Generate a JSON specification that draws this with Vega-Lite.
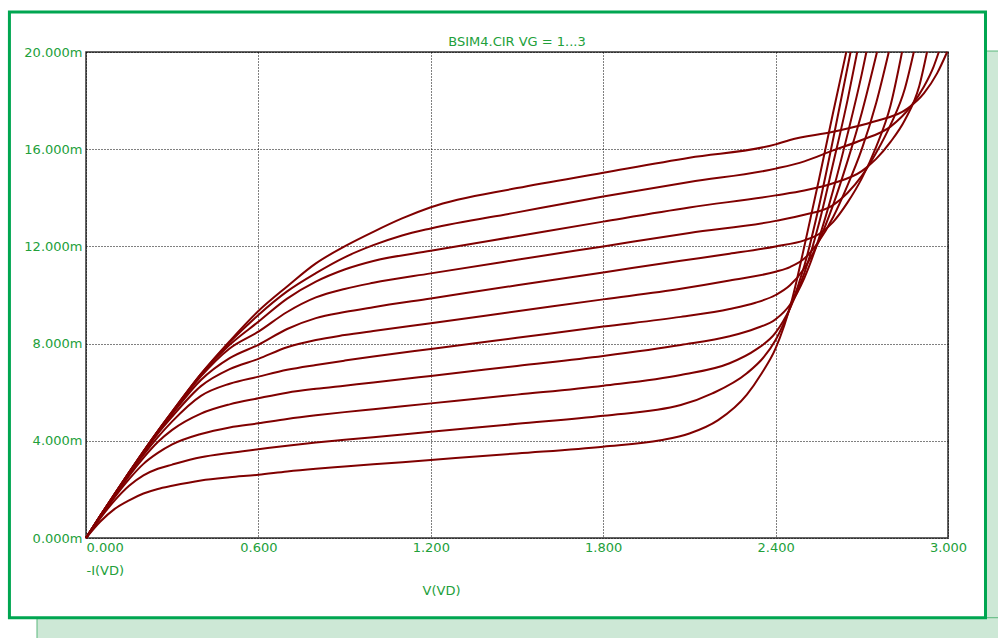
{
  "$schema": "https://vega.github.io/schema/vega-lite/v6.json",
  "width": 862,
  "height": 486,
  "autosize": {"type": "none"},
  "padding": {"left": 86, "top": 52, "right": 50, "bottom": 100},
  "background": "white",
  "title": {"text": "BSIM4.CIR VG = 1...3", "color": "#22a03a", "font": "DejaVu Sans", "fontSize": 13, "fontWeight": "normal", "anchor": "middle", "frame": "group", "baseline": "alphabetic", "offset": 5, "dy": 53},
  "config": {"view": {"stroke": "#333333", "strokeWidth": 1.5}},
  "datasets": {
    "frame": [{}],
    "curves": [
      {"vg":1.0,"v":0,"i":0},{"vg":1.0,"v":0.05,"i":0.68},{"vg":1.0,"v":0.1,"i":1.2},{"vg":1.0,"v":0.15,"i":1.55},{"vg":1.0,"v":0.2,"i":1.83},{"vg":1.0,"v":0.25,"i":2.02},{"vg":1.0,"v":0.3,"i":2.15},{"vg":1.0,"v":0.4,"i":2.37},{"vg":1.0,"v":0.5,"i":2.5},{"vg":1.0,"v":0.6,"i":2.6},{"vg":1.0,"v":0.7,"i":2.74},{"vg":1.0,"v":0.8,"i":2.85},{"vg":1.0,"v":0.9,"i":2.94},{"vg":1.0,"v":1.0,"i":3.03},{"vg":1.0,"v":1.2,"i":3.21},{"vg":1.0,"v":1.5,"i":3.48},{"vg":1.0,"v":1.8,"i":3.76},{"vg":1.0,"v":2.0,"i":4.02},{"vg":1.0,"v":2.1,"i":4.3},{"vg":1.0,"v":2.2,"i":4.85},{"vg":1.0,"v":2.3,"i":5.9},{"vg":1.0,"v":2.35,"i":6.75},{"vg":1.0,"v":2.4,"i":7.8},{"vg":1.0,"v":2.457,"i":9.8},{"vg":1.0,"v":2.5,"i":12.0},{"vg":1.0,"v":2.55,"i":14.7},{"vg":1.0,"v":2.6,"i":17.5},{"vg":1.0,"v":2.646,"i":20},
      {"vg":1.2,"v":0,"i":0},{"vg":1.2,"v":0.05,"i":0.82},{"vg":1.2,"v":0.1,"i":1.55},{"vg":1.2,"v":0.15,"i":2.15},{"vg":1.2,"v":0.2,"i":2.58},{"vg":1.2,"v":0.25,"i":2.85},{"vg":1.2,"v":0.3,"i":3.02},{"vg":1.2,"v":0.4,"i":3.32},{"vg":1.2,"v":0.5,"i":3.5},{"vg":1.2,"v":0.6,"i":3.65},{"vg":1.2,"v":0.7,"i":3.8},{"vg":1.2,"v":0.8,"i":3.93},{"vg":1.2,"v":0.9,"i":4.04},{"vg":1.2,"v":1.0,"i":4.15},{"vg":1.2,"v":1.2,"i":4.37},{"vg":1.2,"v":1.5,"i":4.7},{"vg":1.2,"v":1.8,"i":5.03},{"vg":1.2,"v":2.07,"i":5.47},{"vg":1.2,"v":2.18,"i":5.95},{"vg":1.2,"v":2.3,"i":6.78},{"vg":1.2,"v":2.36,"i":7.46},{"vg":1.2,"v":2.4,"i":8.15},{"vg":1.2,"v":2.45,"i":9.45},{"vg":1.2,"v":2.5,"i":11.2},{"vg":1.2,"v":2.55,"i":13.6},{"vg":1.2,"v":2.6,"i":16.4},{"vg":1.2,"v":2.661,"i":20},
      {"vg":1.4,"v":0,"i":0},{"vg":1.4,"v":0.05,"i":0.86},{"vg":1.4,"v":0.1,"i":1.68},{"vg":1.4,"v":0.15,"i":2.42},{"vg":1.4,"v":0.2,"i":3.05},{"vg":1.4,"v":0.25,"i":3.5},{"vg":1.4,"v":0.3,"i":3.85},{"vg":1.4,"v":0.4,"i":4.28},{"vg":1.4,"v":0.5,"i":4.55},{"vg":1.4,"v":0.6,"i":4.72},{"vg":1.4,"v":0.7,"i":4.9},{"vg":1.4,"v":0.8,"i":5.05},{"vg":1.4,"v":0.9,"i":5.18},{"vg":1.4,"v":1.0,"i":5.3},{"vg":1.4,"v":1.2,"i":5.54},{"vg":1.4,"v":1.5,"i":5.9},{"vg":1.4,"v":1.8,"i":6.27},{"vg":1.4,"v":2.07,"i":6.71},{"vg":1.4,"v":2.24,"i":7.19},{"vg":1.4,"v":2.33,"i":7.74},{"vg":1.4,"v":2.4,"i":8.45},{"vg":1.4,"v":2.45,"i":9.45},{"vg":1.4,"v":2.5,"i":10.9},{"vg":1.4,"v":2.55,"i":12.9},{"vg":1.4,"v":2.6,"i":15.4},{"vg":1.4,"v":2.65,"i":18.0},{"vg":1.4,"v":2.684,"i":20},
      {"vg":1.6,"v":0,"i":0},{"vg":1.6,"v":0.05,"i":0.88},{"vg":1.6,"v":0.1,"i":1.74},{"vg":1.6,"v":0.15,"i":2.56},{"vg":1.6,"v":0.2,"i":3.3},{"vg":1.6,"v":0.25,"i":3.95},{"vg":1.6,"v":0.3,"i":4.45},{"vg":1.6,"v":0.4,"i":5.12},{"vg":1.6,"v":0.5,"i":5.5},{"vg":1.6,"v":0.6,"i":5.75},{"vg":1.6,"v":0.7,"i":5.98},{"vg":1.6,"v":0.8,"i":6.14},{"vg":1.6,"v":0.9,"i":6.27},{"vg":1.6,"v":1.0,"i":6.4},{"vg":1.6,"v":1.2,"i":6.67},{"vg":1.6,"v":1.5,"i":7.08},{"vg":1.6,"v":1.8,"i":7.49},{"vg":1.6,"v":2.07,"i":7.94},{"vg":1.6,"v":2.24,"i":8.3},{"vg":1.6,"v":2.33,"i":8.62},{"vg":1.6,"v":2.4,"i":9.0},{"vg":1.6,"v":2.45,"i":9.6},{"vg":1.6,"v":2.5,"i":10.7},{"vg":1.6,"v":2.55,"i":12.3},{"vg":1.6,"v":2.6,"i":14.3},{"vg":1.6,"v":2.65,"i":16.6},{"vg":1.6,"v":2.7,"i":19.1},{"vg":1.6,"v":2.716,"i":20},
      {"vg":1.8,"v":0,"i":0},{"vg":1.8,"v":0.05,"i":0.9},{"vg":1.8,"v":0.1,"i":1.77},{"vg":1.8,"v":0.15,"i":2.62},{"vg":1.8,"v":0.2,"i":3.42},{"vg":1.8,"v":0.25,"i":4.15},{"vg":1.8,"v":0.3,"i":4.8},{"vg":1.8,"v":0.4,"i":5.85},{"vg":1.8,"v":0.5,"i":6.35},{"vg":1.8,"v":0.6,"i":6.64},{"vg":1.8,"v":0.7,"i":6.92},{"vg":1.8,"v":0.8,"i":7.12},{"vg":1.8,"v":0.9,"i":7.3},{"vg":1.8,"v":1.0,"i":7.47},{"vg":1.8,"v":1.2,"i":7.78},{"vg":1.8,"v":1.5,"i":8.24},{"vg":1.8,"v":1.8,"i":8.7},{"vg":1.8,"v":2.07,"i":9.1},{"vg":1.8,"v":2.24,"i":9.42},{"vg":1.8,"v":2.33,"i":9.68},{"vg":1.8,"v":2.4,"i":10.0},{"vg":1.8,"v":2.45,"i":10.4},{"vg":1.8,"v":2.5,"i":11.1},{"vg":1.8,"v":2.55,"i":12.2},{"vg":1.8,"v":2.6,"i":13.7},{"vg":1.8,"v":2.65,"i":15.5},{"vg":1.8,"v":2.7,"i":17.5},{"vg":1.8,"v":2.753,"i":20},
      {"vg":2.0,"v":0,"i":0},{"vg":2.0,"v":0.05,"i":0.91},{"vg":2.0,"v":0.1,"i":1.79},{"vg":2.0,"v":0.15,"i":2.66},{"vg":2.0,"v":0.2,"i":3.5},{"vg":2.0,"v":0.25,"i":4.3},{"vg":2.0,"v":0.3,"i":5.0},{"vg":2.0,"v":0.4,"i":6.25},{"vg":2.0,"v":0.5,"i":6.95},{"vg":2.0,"v":0.6,"i":7.37},{"vg":2.0,"v":0.7,"i":7.85},{"vg":2.0,"v":0.8,"i":8.15},{"vg":2.0,"v":0.9,"i":8.35},{"vg":2.0,"v":1.0,"i":8.52},{"vg":2.0,"v":1.2,"i":8.84},{"vg":2.0,"v":1.5,"i":9.33},{"vg":2.0,"v":1.8,"i":9.82},{"vg":2.0,"v":2.07,"i":10.26},{"vg":2.0,"v":2.24,"i":10.6},{"vg":2.0,"v":2.4,"i":10.96},{"vg":2.0,"v":2.45,"i":11.15},{"vg":2.0,"v":2.5,"i":11.5},{"vg":2.0,"v":2.55,"i":12.2},{"vg":2.0,"v":2.6,"i":13.2},{"vg":2.0,"v":2.65,"i":14.5},{"vg":2.0,"v":2.7,"i":16.0},{"vg":2.0,"v":2.75,"i":17.9},{"vg":2.0,"v":2.794,"i":20},
      {"vg":2.2,"v":0,"i":0},{"vg":2.2,"v":0.05,"i":0.91},{"vg":2.2,"v":0.1,"i":1.8},{"vg":2.2,"v":0.15,"i":2.68},{"vg":2.2,"v":0.2,"i":3.53},{"vg":2.2,"v":0.25,"i":4.35},{"vg":2.2,"v":0.3,"i":5.1},{"vg":2.2,"v":0.4,"i":6.5},{"vg":2.2,"v":0.5,"i":7.4},{"vg":2.2,"v":0.6,"i":7.95},{"vg":2.2,"v":0.7,"i":8.6},{"vg":2.2,"v":0.8,"i":9.05},{"vg":2.2,"v":0.9,"i":9.3},{"vg":2.2,"v":1.0,"i":9.5},{"vg":2.2,"v":1.2,"i":9.86},{"vg":2.2,"v":1.5,"i":10.4},{"vg":2.2,"v":1.8,"i":10.93},{"vg":2.2,"v":2.07,"i":11.41},{"vg":2.2,"v":2.24,"i":11.7},{"vg":2.2,"v":2.4,"i":12.0},{"vg":2.2,"v":2.5,"i":12.25},{"vg":2.2,"v":2.55,"i":12.5},{"vg":2.2,"v":2.6,"i":13.0},{"vg":2.2,"v":2.65,"i":13.8},{"vg":2.2,"v":2.7,"i":14.8},{"vg":2.2,"v":2.75,"i":16.1},{"vg":2.2,"v":2.8,"i":17.8},{"vg":2.2,"v":2.84,"i":20},
      {"vg":2.4,"v":0,"i":0},{"vg":2.4,"v":0.05,"i":0.92},{"vg":2.4,"v":0.1,"i":1.81},{"vg":2.4,"v":0.15,"i":2.69},{"vg":2.4,"v":0.2,"i":3.55},{"vg":2.4,"v":0.25,"i":4.38},{"vg":2.4,"v":0.3,"i":5.15},{"vg":2.4,"v":0.4,"i":6.65},{"vg":2.4,"v":0.5,"i":7.8},{"vg":2.4,"v":0.6,"i":8.49},{"vg":2.4,"v":0.7,"i":9.3},{"vg":2.4,"v":0.8,"i":9.9},{"vg":2.4,"v":0.9,"i":10.25},{"vg":2.4,"v":1.0,"i":10.5},{"vg":2.4,"v":1.2,"i":10.89},{"vg":2.4,"v":1.5,"i":11.45},{"vg":2.4,"v":1.8,"i":12.0},{"vg":2.4,"v":2.1,"i":12.55},{"vg":2.4,"v":2.4,"i":13.05},{"vg":2.4,"v":2.5,"i":13.3},{"vg":2.4,"v":2.6,"i":13.7},{"vg":2.4,"v":2.65,"i":14.2},{"vg":2.4,"v":2.7,"i":14.9},{"vg":2.4,"v":2.75,"i":15.85},{"vg":2.4,"v":2.8,"i":17.0},{"vg":2.4,"v":2.85,"i":18.5},{"vg":2.4,"v":2.881,"i":20},
      {"vg":2.6,"v":0,"i":0},{"vg":2.6,"v":0.05,"i":0.92},{"vg":2.6,"v":0.1,"i":1.82},{"vg":2.6,"v":0.15,"i":2.7},{"vg":2.6,"v":0.2,"i":3.56},{"vg":2.6,"v":0.25,"i":4.4},{"vg":2.6,"v":0.3,"i":5.18},{"vg":2.6,"v":0.4,"i":6.72},{"vg":2.6,"v":0.5,"i":7.95},{"vg":2.6,"v":0.6,"i":8.9},{"vg":2.6,"v":0.7,"i":9.85},{"vg":2.6,"v":0.8,"i":10.55},{"vg":2.6,"v":0.9,"i":11.05},{"vg":2.6,"v":1.0,"i":11.4},{"vg":2.6,"v":1.2,"i":11.82},{"vg":2.6,"v":1.5,"i":12.42},{"vg":2.6,"v":1.8,"i":13.02},{"vg":2.6,"v":2.1,"i":13.6},{"vg":2.6,"v":2.4,"i":14.1},{"vg":2.6,"v":2.5,"i":14.3},{"vg":2.6,"v":2.6,"i":14.6},{"vg":2.6,"v":2.7,"i":15.1},{"vg":2.6,"v":2.75,"i":15.6},{"vg":2.6,"v":2.8,"i":16.3},{"vg":2.6,"v":2.85,"i":17.2},{"vg":2.6,"v":2.9,"i":18.6},{"vg":2.6,"v":2.927,"i":20},
      {"vg":2.8,"v":0,"i":0},{"vg":2.8,"v":0.05,"i":0.92},{"vg":2.8,"v":0.1,"i":1.82},{"vg":2.8,"v":0.15,"i":2.7},{"vg":2.8,"v":0.2,"i":3.57},{"vg":2.8,"v":0.25,"i":4.4},{"vg":2.8,"v":0.3,"i":5.2},{"vg":2.8,"v":0.4,"i":6.74},{"vg":2.8,"v":0.5,"i":8.05},{"vg":2.8,"v":0.6,"i":9.18},{"vg":2.8,"v":0.7,"i":10.15},{"vg":2.8,"v":0.8,"i":10.9},{"vg":2.8,"v":0.9,"i":11.55},{"vg":2.8,"v":1.0,"i":12.05},{"vg":2.8,"v":1.1,"i":12.45},{"vg":2.8,"v":1.2,"i":12.74},{"vg":2.8,"v":1.5,"i":13.4},{"vg":2.8,"v":1.8,"i":14.05},{"vg":2.8,"v":2.1,"i":14.65},{"vg":2.8,"v":2.4,"i":15.2},{"vg":2.8,"v":2.5,"i":15.5},{"vg":2.8,"v":2.6,"i":15.95},{"vg":2.8,"v":2.7,"i":16.38},{"vg":2.8,"v":2.8,"i":16.93},{"vg":2.8,"v":2.87,"i":17.75},{"vg":2.8,"v":2.916,"i":18.57},{"vg":2.8,"v":2.95,"i":19.4},{"vg":2.8,"v":2.968,"i":20},
      {"vg":3.0,"v":0,"i":0},{"vg":3.0,"v":0.05,"i":0.92},{"vg":3.0,"v":0.1,"i":1.82},{"vg":3.0,"v":0.15,"i":2.7},{"vg":3.0,"v":0.2,"i":3.57},{"vg":3.0,"v":0.25,"i":4.4},{"vg":3.0,"v":0.3,"i":5.2},{"vg":3.0,"v":0.4,"i":6.75},{"vg":3.0,"v":0.5,"i":8.1},{"vg":3.0,"v":0.6,"i":9.34},{"vg":3.0,"v":0.7,"i":10.35},{"vg":3.0,"v":0.8,"i":11.3},{"vg":3.0,"v":0.9,"i":12.0},{"vg":3.0,"v":1.0,"i":12.6},{"vg":3.0,"v":1.1,"i":13.15},{"vg":3.0,"v":1.2,"i":13.61},{"vg":3.0,"v":1.5,"i":14.4},{"vg":3.0,"v":1.8,"i":15.03},{"vg":3.0,"v":2.1,"i":15.65},{"vg":3.0,"v":2.4,"i":16.2},{"vg":3.0,"v":2.45,"i":16.38},{"vg":3.0,"v":2.6,"i":16.72},{"vg":3.0,"v":2.74,"i":17.13},{"vg":3.0,"v":2.86,"i":17.68},{"vg":3.0,"v":2.916,"i":18.3},{"vg":3.0,"v":2.962,"i":19.12},{"vg":3.0,"v":2.997,"i":20}
    ]
  },
  "layer": [
    {
      "data": {"name": "frame"},
      "mark": {"type": "rect", "fill": "#cde8d6", "stroke": "#5ab77c", "strokeWidth": 1},
      "encoding": {
        "x": {"datum": 3.1305, "type": "quantitative"},
        "x2": {"datum": 3.25},
        "y": {"datum": 20.04, "type": "quantitative"},
        "y2": {"datum": -4.6}
      }
    },
    {
      "data": {"name": "frame"},
      "mark": {"type": "rect", "fill": "#cde8d6", "stroke": "#5ab77c", "strokeWidth": 1},
      "encoding": {
        "x": {"datum": -0.1705, "type": "quantitative"},
        "x2": {"datum": 3.25},
        "y": {"datum": -3.28, "type": "quantitative"},
        "y2": {"datum": -4.6}
      }
    },
    {
      "data": {"name": "frame"},
      "mark": {"type": "rect", "fill": null, "stroke": "#00a651", "strokeWidth": 3},
      "encoding": {
        "x": {"datum": -0.2665, "type": "quantitative"},
        "x2": {"datum": 3.1305},
        "y": {"datum": 21.646, "type": "quantitative"},
        "y2": {"datum": -3.284}
      }
    },
    {
      "data": {"name": "curves"},
      "mark": {"type": "line", "color": "#800000", "strokeWidth": 2, "interpolate": "monotone"},
      "encoding": {
        "x": {
          "field": "v", "type": "quantitative",
          "scale": {"domain": [0, 3], "nice": false, "zero": false},
          "axis": {
            "values": [0, 0.6, 1.2, 1.8, 2.4, 3.0],
            "labelExpr": "format(datum.value, '.3f')",
            "labelFont": "DejaVu Sans", "labelFontSize": 13, "labelColor": "#22a03a",
            "labelAlign": {"condition": {"test": "datum.value == 0", "value": "left"}, "value": "center"},
            "labelBaseline": "top", "labelPadding": 3,
            "ticks": false, "domain": false,
            "grid": true, "gridColor": "#000000", "gridDash": [1, 2], "gridWidth": 1, "gridOpacity": 1,
            "title": "V(VD)", "titleFont": "DejaVu Sans", "titleFontSize": 13, "titleFontWeight": "normal", "titleColor": "#22a03a",
            "titleX": 355, "titleY": 56, "titleAlign": "center", "titleBaseline": "alphabetic",
            "labelOverlap": false
          }
        },
        "y": {
          "field": "i", "type": "quantitative",
          "scale": {"domain": [0, 20], "nice": false, "zero": false},
          "axis": {
            "values": [0, 4, 8, 12, 16, 20],
            "labelExpr": "format(datum.value, '.3f') + 'm'",
            "labelFont": "DejaVu Sans", "labelFontSize": 13, "labelColor": "#22a03a",
            "labelPadding": 4, "labelBaseline": "middle",
            "ticks": false, "domain": false,
            "grid": true, "gridColor": "#000000", "gridDash": [1, 2], "gridWidth": 1, "gridOpacity": 1,
            "title": "-I(VD)", "titleFont": "DejaVu Sans", "titleFontSize": 13, "titleFontWeight": "normal", "titleColor": "#22a03a",
            "titleAngle": 0, "titleX": 0, "titleY": 522, "titleAlign": "left", "titleBaseline": "alphabetic",
            "labelOverlap": false
          }
        },
        "detail": {"field": "vg", "type": "nominal"}
      }
    }
  ]
}
